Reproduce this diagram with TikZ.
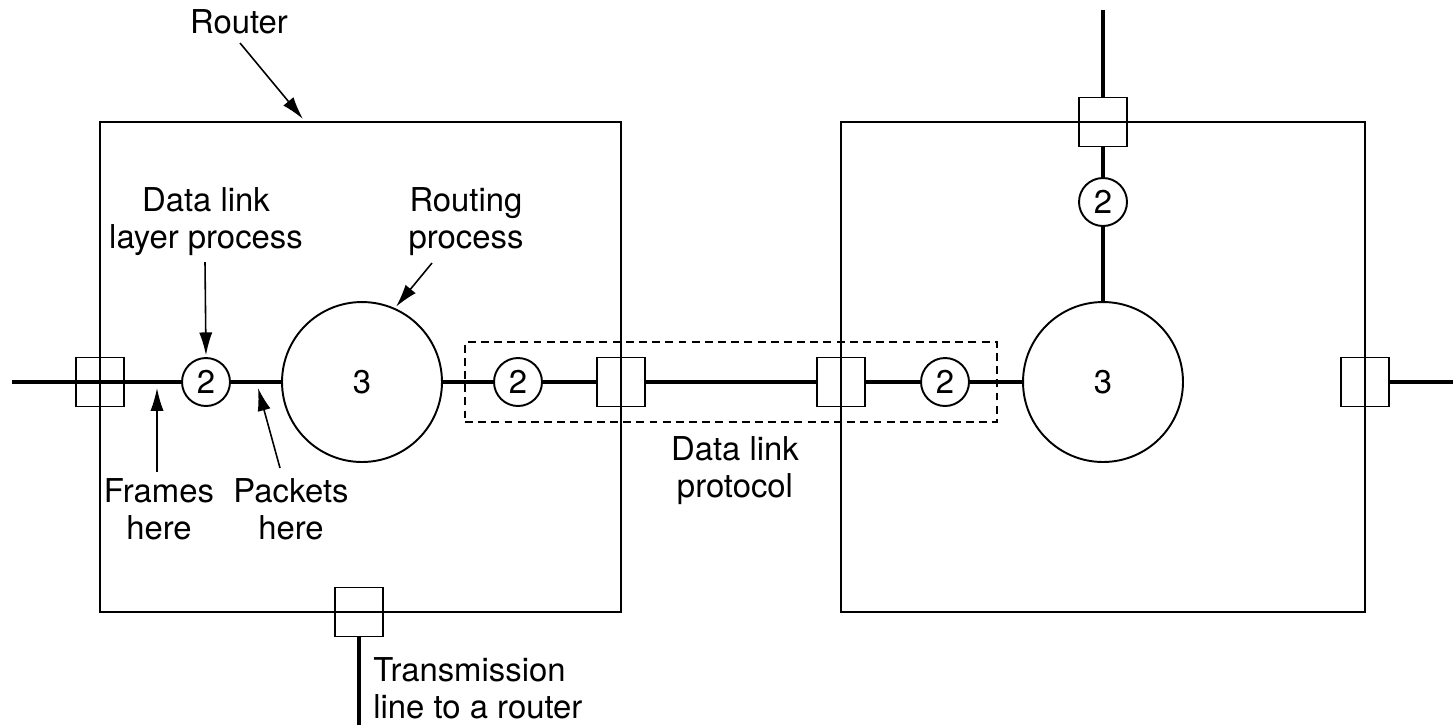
\documentclass[tikz,border=0pt]{standalone}
\usepackage{fontspec}
\setmainfont{TeX Gyre Heros}
\usetikzlibrary{arrows.meta}
\begin{document}
\begin{tikzpicture}[x=0.02cm,y=-0.02cm,font=\fontsize{18.7}{21}\selectfont,
        rbox/.style={draw,line width=1.1pt,minimum height=9.8cm,inner sep=0pt},
        port/.style={draw,line width=1.1pt,minimum width=0.96cm,minimum height=0.98cm,inner sep=0pt},
        dlp/.style={draw,circle,line width=1.1pt,minimum size=0.96cm,inner sep=0pt},
        rproc/.style={draw,circle,line width=1.1pt,minimum size=3.2cm,inner sep=0pt},
        wire/.style={line width=1.8pt},
        pointer/.style={line width=0.9pt,-{Latex[length=13pt,width=7.5pt]}},
        lbl/.style={align=center,inner sep=0pt}]
        \useasboundingbox (0,0) rectangle (1453,725);
        \node[rbox,minimum width=10.42cm] (rA) at (360.5,367) {};
        \node[rbox,minimum width=10.48cm] (rB) at (1103,367) {};
        \node[draw,dashed,line width=1.1pt,dash pattern=on 4.5pt off 3pt,minimum width=10.64cm,minimum height=1.6cm] (dlbox) at (731,382) {};
        \node[port] (pL) at (100,382) {};
        \node[port] (pB) at (621,382) {};
        \node[port] (pC) at (841,382) {};
        \node[port] (pR) at (1365,382) {};
        \node[port] (pT) at (1103,122) {};
        \node[port] (pD) at (359,612) {};
        \node[dlp] (dA) at (206,382) {2};
        \node[dlp] (dB) at (518,382) {2};
        \node[dlp] (dC) at (945,382) {2};
        \node[dlp] (dT) at (1103,202) {2};
        \node[rproc] (rpA) at (362,382) {3};
        \node[rproc] (rpB) at (1103,382) {3};
        \coordinate (inL) at (12,382);
        \coordinate (outR) at (1453,382);
        \coordinate (inT) at (1103,10);
        \coordinate (outD) at (359,725);
        \foreach \a/\b in {inL/dA, dA/rpA, rpA/dB, dB/pB, pB/pC, pC/dC, dC/rpB, rpB/dT, dT/pT, pT/inT, pR/outR, pD/outD}{
            \draw[wire] (\a) -- (\b);
        }
        \node[lbl,anchor=base] (lRouter) at (239,33) {Router};
        \node[lbl] (lDll) at (206,222) {Data link\\layer process};
        \node[lbl] (lRp) at (466,222) {Routing\\process};
        \node[lbl] (lFrames) at (159,509) {Frames\\here};
        \node[lbl] (lPackets) at (291,509) {Packets\\here};
        \node[lbl] (lProto) at (735,471) {Data link\\protocol};
        \node[lbl,align=left,anchor=west] (lTrans) at (373,688) {Transmission\\line to a router};
        \coordinate (tRouter) at (240,43);
        \coordinate (hRouter) at (303,119);
        \coordinate (tDll) at (205,262);
        \coordinate (tRp) at (432,263);
        \coordinate (tFrames) at (157,472);
        \coordinate (hFrames) at (157,388);
        \coordinate (tPackets) at (280,468);
        \coordinate (hPackets) at (258,388);
        \draw[pointer] (tRouter) -- (hRouter);
        \draw[pointer,shorten >=1pt] (tDll) -- (dA.north);
        \draw[pointer,shorten >=1pt] (tRp) -- (rpA.66);
        \draw[pointer] (tFrames) -- (hFrames);
        \draw[pointer] (tPackets) -- (hPackets);
    \end{tikzpicture}
\end{document}
